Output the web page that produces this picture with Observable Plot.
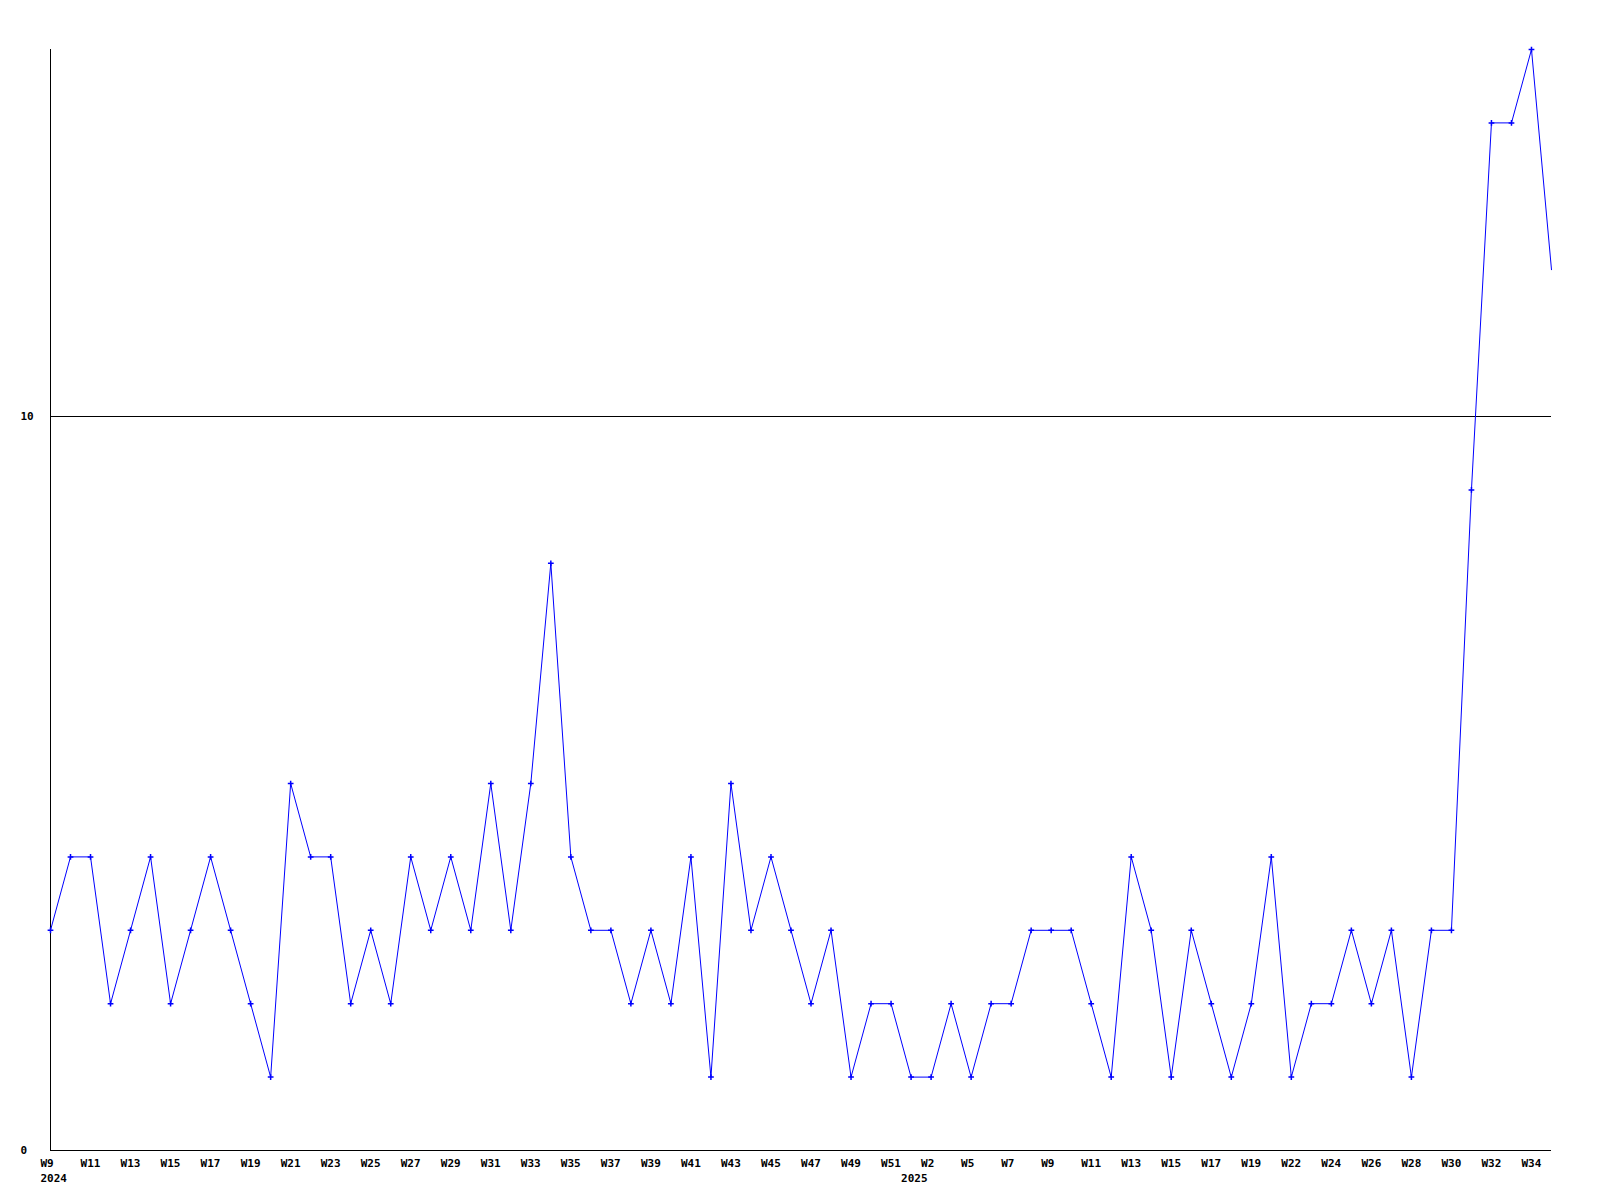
<!DOCTYPE html>
<html>
<head>
<meta charset="utf-8">
<script src="https://cdn.jsdelivr.net/npm/d3@7"></script>
<script src="https://cdn.jsdelivr.net/npm/@observablehq/plot@0.6"></script>
<style>
  html, body { margin: 0; padding: 0; background: #ffffff; }
  #chart svg { display: block; }
</style>
</head>
<body>
<div id="chart"></div>
<script>
// Weekly counts, one per point (index order)
const values = [
  3, 4, 4, 2, 3, 4, 2, 3, 4, 3,
  2, 1, 5, 4, 4, 2, 3, 2, 4, 3,
  4, 3, 5, 3, 5, 8, 4, 3, 3, 2,
  3, 2, 4, 1, 5, 3, 4, 3, 2, 3,
  1, 2, 2, 1, 1, 2, 1, 2, 2, 3,
  3, 3, 2, 1, 4, 3, 1, 3, 2, 1,
  2, 4, 1, 2, 2, 3, 2, 3, 1, 3,
  3, 9, 14, 14, 15, 12
];
// Tick labels on every other point (index, label)
const tickIndex = [0,2,4,6,8,10,12,14,16,18,20,22,24,26,28,30,32,34,36,38,40,42,44,46,48,50,52,54,56,58,60,62,64,66,68,70,72,74];
const tickLabels = ["W9","W11","W13","W15","W17","W19","W21","W23","W25","W27","W29","W31","W33","W35","W37","W39","W41","W43","W45","W47","W49","W51","W2","W5","W7","W9","W11","W13","W15","W17","W19","W22","W24","W26","W28","W30","W32","W34"];
const yearIndex = [0, 43];
const yearLabels = ["2024", "2025"];
const yTicks = [0, 10];

const pts = values.map((v, i) => ({i, v}));
const ticks = tickIndex.map((i, k) => ({i, label: tickLabels[k]}));
const years = yearIndex.map((i, k) => ({i, label: yearLabels[k]}));
const blue = "#0000ff";
const font = "'DejaVu Sans Mono', 'Liberation Mono', monospace";

const chart = Plot.plot({
  width: 1600,
  height: 1200,
  marginLeft: 50,
  marginRight: 49,
  marginTop: 49,
  marginBottom: 50,
  style: {fontFamily: font, fontSize: "11px", fontWeight: "bold", background: "#ffffff", color: "#000"},
  x: {type: "linear", domain: [0, values.length - 1], axis: null},
  y: {domain: [0, 15], axis: null},
  marks: [
    Plot.ruleY([10], {x1: 0, x2: values.length - 1, stroke: "#000", strokeWidth: 1}),
    Plot.ruleY([0], {x1: 0, x2: values.length - 1, stroke: "#000", strokeWidth: 1}),
    Plot.ruleX([0], {y1: 0, y2: 15, stroke: "#000", strokeWidth: 1}),
    Plot.line(pts, {x: "i", y: "v", stroke: blue, strokeWidth: 1}),
    Plot.dot(pts.slice(0, -1), {x: "i", y: "v", symbol: "plus", r: 2, stroke: blue, strokeWidth: 1.5}),
    Plot.text(ticks, {x: "i", y: () => 0, text: "label", textAnchor: "start", dx: -10, dy: 13, fill: "#000", clip: false}),
    Plot.text(years, {x: "i", y: () => 0, text: "label", textAnchor: "start", dx: -10, dy: 28, fill: "#000", clip: false}),
    Plot.text(yTicks, {x: () => 0, y: d => d, text: d => String(d), textAnchor: "start", dx: -30, fill: "#000", clip: false})
  ]
});
document.getElementById("chart").appendChild(chart);
</script>
</body>
</html>
